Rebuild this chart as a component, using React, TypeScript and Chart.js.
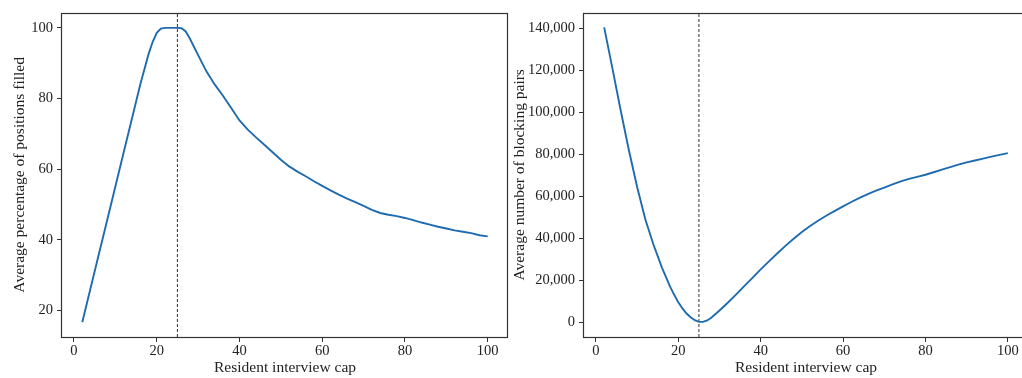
import React, { useEffect, useRef } from "react";
import { Chart, registerables } from "chart.js";

Chart.register(...registerables);

// ---- data ----
const interviewCap = [
  2, 4, 6, 8, 10, 12, 14, 16, 18, 19, 20, 21, 22, 23, 24, 25, 26, 27, 28, 30,
  32, 34, 36, 38, 40, 42, 44, 46, 48, 50, 52, 54, 56, 58, 60, 62, 64, 66, 68,
  70, 72, 74, 76, 78, 80, 82, 84, 86, 88, 90, 92, 94, 96, 98, 100,
];

const pctFilled = [
  16.7, 26.3, 35.9, 45.5, 55.1, 64.7, 74.3, 83.9, 92.5, 96.0, 98.6, 99.8, 100,
  100, 100, 100, 99.9, 99.0, 97.0, 92.3, 87.7, 84.0, 80.8, 77.3, 73.8, 71.2,
  69.0, 66.9, 64.8, 62.7, 60.8, 59.3, 58.0, 56.6, 55.3, 54.0, 52.8, 51.7, 50.7,
  49.6, 48.5, 47.6, 47.1, 46.7, 46.2, 45.6, 44.9, 44.3, 43.7, 43.2, 42.7, 42.3,
  41.9, 41.3, 41.0,
];

const blockingPairs = [
  140500, 121000, 101000, 82000, 64500, 49000, 36800, 26200, 17000, 13100,
  9500, 6600, 4200, 2400, 1000, 200, 200, 900, 2200, 5600, 9300, 13200, 17200,
  21200, 25200, 29000, 32800, 36400, 39800, 43000, 45900, 48500, 50900, 53100,
  55200, 57300, 59300, 61100, 62700, 64200, 65700, 67100, 68300, 69300, 70300,
  71500, 72700, 73900, 75100, 76200, 77100, 78000, 78900, 79800, 80600,
];

const capMarker = 25;
const xTicks = [0, 20, 40, 60, 80, 100];
const pctTicks = [20, 40, 60, 80, 100];
const pairTicks = [0, 20000, 40000, 60000, 80000, 100000, 120000, 140000];

const xRange = [-2.9, 104.9];
const pctRange = [12.5, 104.3];
const pairRange = [-7000, 147500];

// ---- styling ----
const FONT = '"Liberation Serif", "DejaVu Serif", serif';
const TEXT = "#222222";
const AXIS = "#333333";
const LINE = "#1f6bb0";
const TICK_SIZE = 14.5;
const TITLE_SIZE = 15.5;

const framePlugin = {
  id: "frame",
  afterDraw(chart: any) {
    const { ctx, chartArea } = chart;
    const { left, right, top, bottom } = chartArea;
    ctx.save();
    ctx.strokeStyle = AXIS;
    ctx.lineWidth = 1.2;
    ctx.strokeRect(
      Math.round(left) - 0.5,
      Math.round(top) + 0.5,
      Math.round(right - left),
      Math.round(bottom - top)
    );
    ctx.restore();
  },
};

function makeConfig(opts: {
  values: number[];
  yTicks: number[];
  yRange: number[];
  yTitle: string;
  yWidth: number;
  yTitlePad: number;
  padRight: number;
  fmt: (v: number) => string;
}) {
  const { values, yTicks, yRange, yTitle, yWidth, yTitlePad, padRight, fmt } =
    opts;
  return {
    type: "line" as const,
    data: {
      datasets: [
        {
          data: interviewCap.map((x, i) => ({ x, y: values[i] })),
          borderColor: LINE,
          borderWidth: 1.9,
          pointRadius: 0,
          tension: 0,
          fill: false,
        },
        {
          data: [
            { x: capMarker, y: yRange[0] },
            { x: capMarker, y: yRange[1] },
          ],
          borderColor: "#444444",
          borderWidth: 1.1,
          borderDash: [3, 2],
          pointRadius: 0,
          fill: false,
        },
      ],
    },
    options: {
      animation: false,
      responsive: false,
      events: [],
      layout: { padding: { top: 6, left: 0, right: padRight, bottom: 0 } },
      plugins: {
        legend: { display: false },
        tooltip: { enabled: false },
      },
      scales: {
        x: {
          type: "linear",
          min: xRange[0],
          max: xRange[1],
          afterFit: (s: any) => {
            s.height = 41;
          },
          afterBuildTicks: (s: any) => {
            s.ticks = xTicks.map((v) => ({ value: v }));
          },
          ticks: {
            font: { family: FONT, size: TICK_SIZE },
            color: TEXT,
            padding: 0.5,
            maxRotation: 0,
          },
          grid: {
            display: true,
            drawOnChartArea: false,
            drawTicks: true,
            tickLength: 5,
            tickColor: AXIS,
          },
          border: { display: false },
          title: {
            display: true,
            text: "Resident interview cap",
            font: { family: FONT, size: TITLE_SIZE },
            color: TEXT,
            padding: { top: 0, bottom: 0.7 },
          },
        },
        y: {
          type: "linear",
          min: yRange[0],
          max: yRange[1],
          afterFit: (s: any) => {
            s.width = yWidth;
          },
          afterBuildTicks: (s: any) => {
            s.ticks = yTicks.map((v) => ({ value: v }));
          },
          ticks: {
            font: { family: FONT, size: TICK_SIZE },
            color: TEXT,
            padding: 4,
            callback: (v: any) => fmt(Number(v)),
          },
          grid: {
            display: true,
            drawOnChartArea: false,
            drawTicks: true,
            tickLength: 5,
            tickColor: AXIS,
          },
          border: { display: false },
          title: {
            display: true,
            text: yTitle,
            font: { family: FONT, size: TITLE_SIZE },
            color: TEXT,
            padding: { top: yTitlePad, bottom: 0 },
          },
        },
      },
    },
    plugins: [framePlugin],
  };
}

function ChartCanvas(props: {
  config: any;
  left: number;
  width: number;
  height: number;
}) {
  const ref = useRef<HTMLCanvasElement>(null);
  useEffect(() => {
    const chart = new Chart(ref.current as HTMLCanvasElement, props.config);
    return () => chart.destroy();
  }, []);
  return (
    <canvas
      ref={ref}
      width={props.width}
      height={props.height}
      style={{
        position: "absolute",
        left: props.left,
        top: 0,
        width: props.width,
        height: props.height,
      }}
    />
  );
}

export default function App() {
  const leftCfg = makeConfig({
    values: pctFilled,
    yTicks: pctTicks,
    yRange: pctRange,
    yTitle: "Average percentage of positions filled",
    yWidth: 62,
    yTitlePad: 10.7,
    padRight: 4,
    fmt: (v) => String(v),
  });
  const rightCfg = makeConfig({
    values: blockingPairs,
    yTicks: pairTicks,
    yRange: pairRange,
    yTitle: "Average number of blocking pairs",
    yWidth: 74,
    yTitlePad: 0.7,
    padRight: 12,
    fmt: (v) => v.toLocaleString("en-US"),
  });
  return (
    <div
      style={{
        position: "absolute",
        left: 0,
        top: 0,
        width: 1022,
        height: 378,
        overflow: "hidden",
        background: "#ffffff",
      }}
    >
      <ChartCanvas config={leftCfg} left={0} width={512} height={378} />
      <ChartCanvas config={rightCfg} left={510} width={530} height={378} />
    </div>
  );
}
